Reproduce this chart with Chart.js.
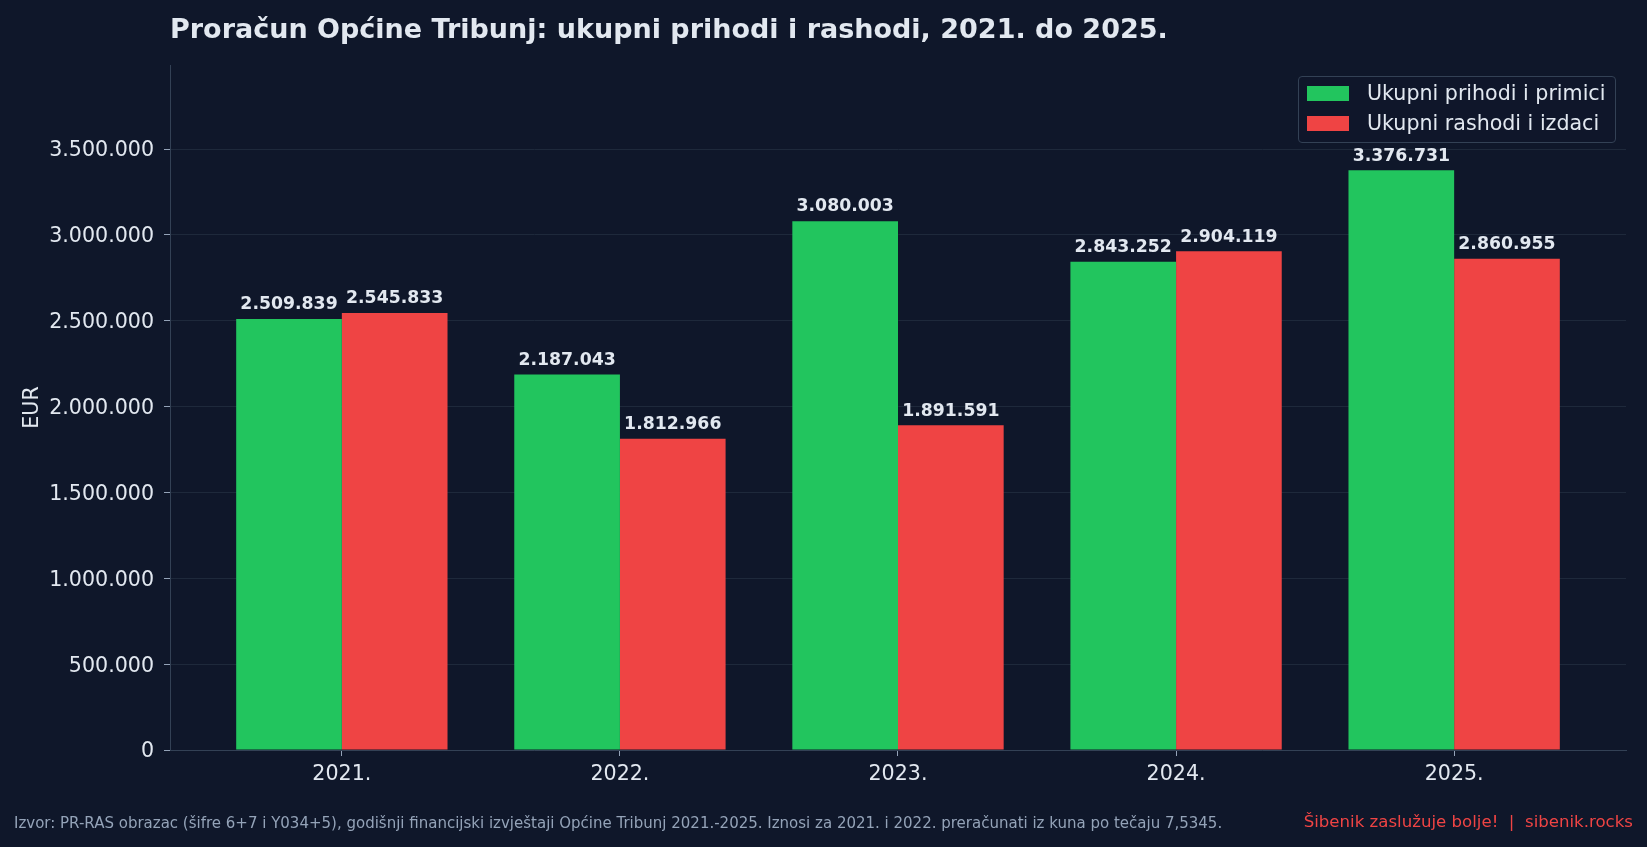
<!DOCTYPE html>
<html lang="hr">
<head>
<meta charset="utf-8">
<title>Proračun Općine Tribunj</title>
<script src="https://cdn.jsdelivr.net/npm/chart.js@4.4.1/dist/chart.umd.min.js"></script>
<style>
  html, body { margin: 0; padding: 0; background: #0f172a; }
  #wrap { position: relative; width: 1647px; height: 847px; font-family: "DejaVu Sans", sans-serif; }
  #chart { position: absolute; left: 0; top: 0; }
  #title { position: absolute; left: 170px; top: 15px; font-size: 27px; font-weight: bold; line-height: 1; color: #e2e8f0; white-space: nowrap; }
  #legend { position: absolute; left: 1298px; top: 76px; width: 316px; height: 65px; border: 1px solid #334155; border-radius: 4px; background: rgba(15, 23, 42, 0.8); }
  .item { position: absolute; left: 8px; height: 20px; display: flex; align-items: center; color: #e2e8f0; font-size: 20.6px; white-space: nowrap; }
  .swatch { width: 42px; height: 15px; margin-right: 18px; }
  .foot { position: absolute; line-height: 1; white-space: pre; }
  #source { left: 14px; top: 816px; font-size: 15px; color: #94a3b8; }
  #brand { right: 14px; top: 814px; font-size: 16.6px; color: #ef4444; }
</style>
</head>
<body>
<div id="wrap">
  <canvas id="chart" width="1647" height="847"></canvas>
  <div id="title">Proračun Općine Tribunj: ukupni prihodi i rashodi, 2021. do 2025.</div>
  <div id="legend"></div>
  <div class="foot" id="source">Izvor: PR-RAS obrazac (šifre 6+7 i Y034+5), godišnji financijski izvještaji Općine Tribunj 2021.-2025. Iznosi za 2021. i 2022. preračunati iz kuna po tečaju 7,5345.</div>
  <div class="foot" id="brand">Šibenik zaslužuje bolje!  |  sibenik.rocks</div>
</div>
<script>
// Data (EUR)
const years = ['2021.', '2022.', '2023.', '2024.', '2025.'];
const prihodi = [2509839, 2187043, 3080003, 2843252, 3376731];
const rashodi = [2545833, 1812966, 1891591, 2904119, 2860955];
const seriesNames = ['Ukupni prihodi i primici', 'Ukupni rashodi i izdaci'];
const seriesColors = ['#22c55e', '#ef4444'];
const yTicks = [0, 500000, 1000000, 1500000, 2000000, 2500000, 3000000, 3500000];

const textColor = '#e2e8f0';
const yMax = Math.max(...prihodi, ...rashodi) * 1.1815;

// 2509839 -> "2.509.839"
function fmt(v) {
    return String(Math.round(v)).replace(/\B(?=(\d{3})+(?!\d))/g, '.');
}

// Value labels above each bar
const valueLabels = {
    id: 'valueLabels',
    afterDatasetsDraw(chart) {
        const ctx = chart.ctx;
        ctx.save();
        ctx.font = 'bold 17.3px "DejaVu Sans"';
        ctx.fillStyle = textColor;
        ctx.textAlign = 'center';
        ctx.textBaseline = 'alphabetic';
        chart.data.datasets.forEach((ds, di) => {
            chart.getDatasetMeta(di).data.forEach((bar, i) => {
                ctx.fillText(fmt(ds.data[i].y), bar.x, bar.y - 9.7);
            });
        });
        ctx.restore();
    }
};

const chart = new Chart(document.getElementById('chart'), {
    type: 'bar',
    data: {
        datasets: [prihodi, rashodi].map((values, di) => ({
            label: seriesNames[di],
            data: values.map((v, i) => ({ x: i, y: v })),
            backgroundColor: seriesColors[di],
            borderWidth: 0,
            categoryPercentage: 0.76,
            barPercentage: 1
        }))
    },
    options: {
        responsive: false,
        devicePixelRatio: 1,
        animation: false,
        layout: {
            padding: { top: 65, right: 21, bottom: 0, left: 0 }
        },
        plugins: {
            legend: { display: false },
            tooltip: { enabled: false }
        },
        scales: {
            x: {
                type: 'linear',
                min: -0.618,
                max: 4.618,
                offset: false,
                grid: {
                    offset: false,
                    drawOnChartArea: false,
                    tickLength: 6,
                    tickColor: '#94a3b8'
                },
                border: { color: '#334155' },
                ticks: {
                    padding: 6,
                    color: textColor,
                    maxRotation: 0,
                    autoSkip: false,
                    font: { family: 'DejaVu Sans', size: 20.6 },
                    callback: (v) => years[v] ?? ''
                },
                afterBuildTicks: (scale) => {
                    scale.ticks = years.map((_, i) => ({ value: i }));
                },
                afterFit: (scale) => {
                    scale.height = 97;
                }
            },
            y: {
                min: 0,
                max: yMax,
                grid: {
                    color: '#1e293b',
                    tickLength: 6,
                    tickColor: '#94a3b8'
                },
                border: { color: '#334155' },
                ticks: {
                    padding: 10,
                    labelOffset: 2,
                    color: textColor,
                    font: { family: 'DejaVu Sans', size: 20.6 },
                    callback: (v) => fmt(v)
                },
                title: {
                    display: true,
                    text: 'EUR',
                    color: textColor,
                    font: { family: 'DejaVu Sans', size: 20.6 },
                    padding: { top: 20, bottom: 0 }
                },
                afterBuildTicks: (scale) => {
                    scale.ticks = yTicks.map(v => ({ value: v }));
                },
                afterFit: (scale) => {
                    scale.width = 170;
                }
            }
        }
    },
    plugins: [valueLabels]
});

// Legend box built from the datasets
const legendEl = document.getElementById('legend');
chart.data.datasets.forEach((ds, i) => {
    const item = document.createElement('div');
    item.className = 'item';
    item.style.top = (6.3 + i * 30) + 'px';
    item.innerHTML = `<span class="swatch" style="background:${ds.backgroundColor}"></span>${ds.label}`;
    legendEl.appendChild(item);
});
</script>
</body>
</html>
